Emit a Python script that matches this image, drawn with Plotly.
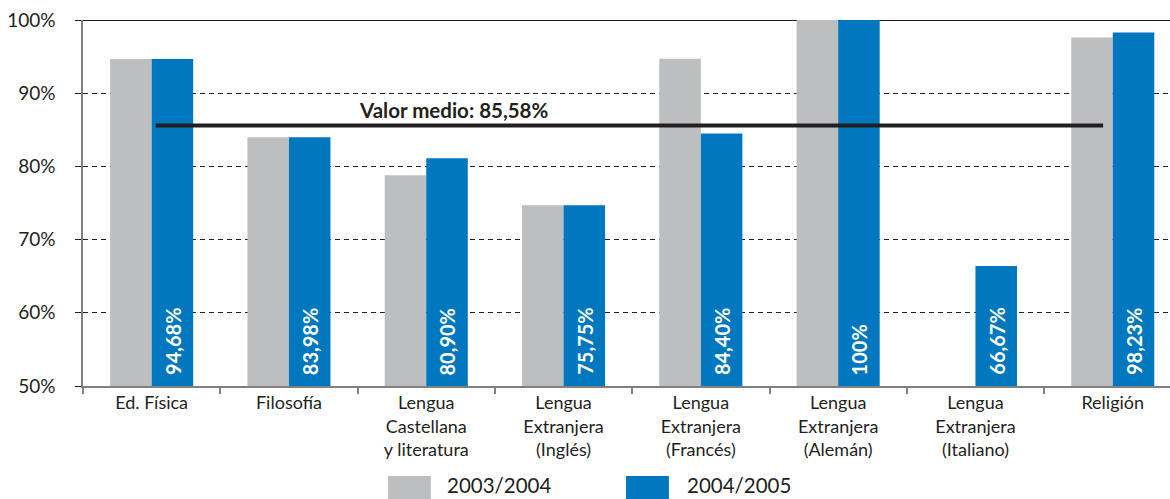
import plotly.graph_objects as go

categories = ["Ed. Física", "Filosofía", "Lengua<br>Castellana<br>y literatura",
              "Lengua<br>Extranjera<br>(Inglés)", "Lengua<br>Extranjera<br>(Francés)",
              "Lengua<br>Extranjera<br>(Alemán)", "Lengua<br>Extranjera<br>(Italiano)", "Religión"]
series_names = ["2003/2004", "2004/2005"]
values_2003 = [94.68, 83.98, 78.8, 74.7, 94.7, 100, None, 97.6]
values_2004 = [94.68, 83.98, 81.1, 74.7, 84.5, 100, 66.4, 98.3]
labels_2004 = ["94,68%", "83,98%", "80,90%", "75,75%", "84,40%", "100%", "66,67%", "98,23%"]
mean_value = 85.58
mean_label = "Valor medio: 85,58%"
y_ticks = [50, 60, 70, 80, 90, 100]
y_ticktext = ["50%", "60%", "70%", "80%", "90%", "100%"]

GREY = "#BCBEC0"
BLUE = "#0077BE"
DARK = "#231F20"
FONT = "Lato"

x_idx = list(range(len(categories)))

fig = go.Figure()
fig.add_trace(go.Bar(x=x_idx, y=values_2003, name=series_names[0],
                     marker=dict(color=GREY, line=dict(width=0)), showlegend=False))
fig.add_trace(go.Bar(x=x_idx, y=values_2004, name=series_names[1],
                     marker=dict(color=BLUE, line=dict(width=0)), showlegend=False))

# value labels inside blue bars
for i, lab in enumerate(labels_2004):
    fig.add_annotation(x=i + 0.151, y=50, xref="x", yref="y", text=lab, textangle=-90,
                       showarrow=False, yanchor="bottom", xanchor="center", yshift=9,
                       font=dict(family=FONT, size=20, color="white", weight="bold"))

# mean line
fig.add_shape(type="line", xref="x", yref="y", x0=0.03, x1=6.93, y0=mean_value, y1=mean_value,
              line=dict(color=DARK, width=4), layer="above")
fig.add_annotation(x=2.2, y=mean_value, xref="x", yref="y", text=mean_label, showarrow=False,
                   yanchor="bottom", yshift=2,
                   font=dict(family=FONT, size=20.5, color=DARK, weight="bold"))

# top border line at 100%
fig.add_shape(type="line", xref="paper", yref="y", x0=0, x1=1, y0=100, y1=100,
              line=dict(color=DARK, width=2), layer="below")

# custom legend
legend_items = [(series_names[0], GREY, 0.2806, 0.320, 0.333),
                (series_names[1], BLUE, 0.4995, 0.539, 0.5538)]
for name, col, sx0, sx1, tx in legend_items:
    fig.add_shape(type="rect", xref="paper", yref="paper", x0=sx0, x1=sx1, y0=-0.246, y1=-0.36,
                  fillcolor=col, line=dict(width=0))
    fig.add_annotation(x=tx, y=-0.3087, xref="paper", yref="paper", text=name, showarrow=False,
                       xanchor="left", yanchor="bottom",
                       font=dict(family=FONT, size=20.5, color=DARK))

fig.update_layout(
    width=1170, height=499,
    margin=dict(l=83, r=0, t=20, b=113, autoexpand=False),
    plot_bgcolor="white", paper_bgcolor="white",
    barmode="group", bargap=0.395, bargroupgap=0,
    showlegend=False,
    font=dict(family=FONT, color=DARK),
)
fig.update_xaxes(
    type="linear", range=[-0.5, 7.417], tickmode="array", tickvals=x_idx, ticktext=categories,
    showgrid=False, zeroline=False, showline=True, linecolor="#808080", linewidth=1.5,
    ticks="", ticklabelstandoff=0, tickfont=dict(family=FONT, size=18, color=DARK),
    minor=dict(tickmode="array", tickvals=[i - 0.5 for i in x_idx], ticks="outside",
               ticklen=6, tickcolor="#808080", tickwidth=1.5, showgrid=False),
)
fig.update_yaxes(
    range=[50, 100], tickmode="array", tickvals=y_ticks, ticktext=y_ticktext,
    showgrid=True, gridcolor=DARK, gridwidth=1, griddash="5px,4px",
    zeroline=False, showline=True, linecolor="#808080", linewidth=1.5,
    ticks="outside", ticklen=6, tickcolor=DARK, tickwidth=1,
    ticklabelstandoff=16, tickfont=dict(family=FONT, size=19, color=DARK),
)

fig.write_html("out.html", config={"displayModeBar": False},
               post_script="document.body.style.margin='0px';")
